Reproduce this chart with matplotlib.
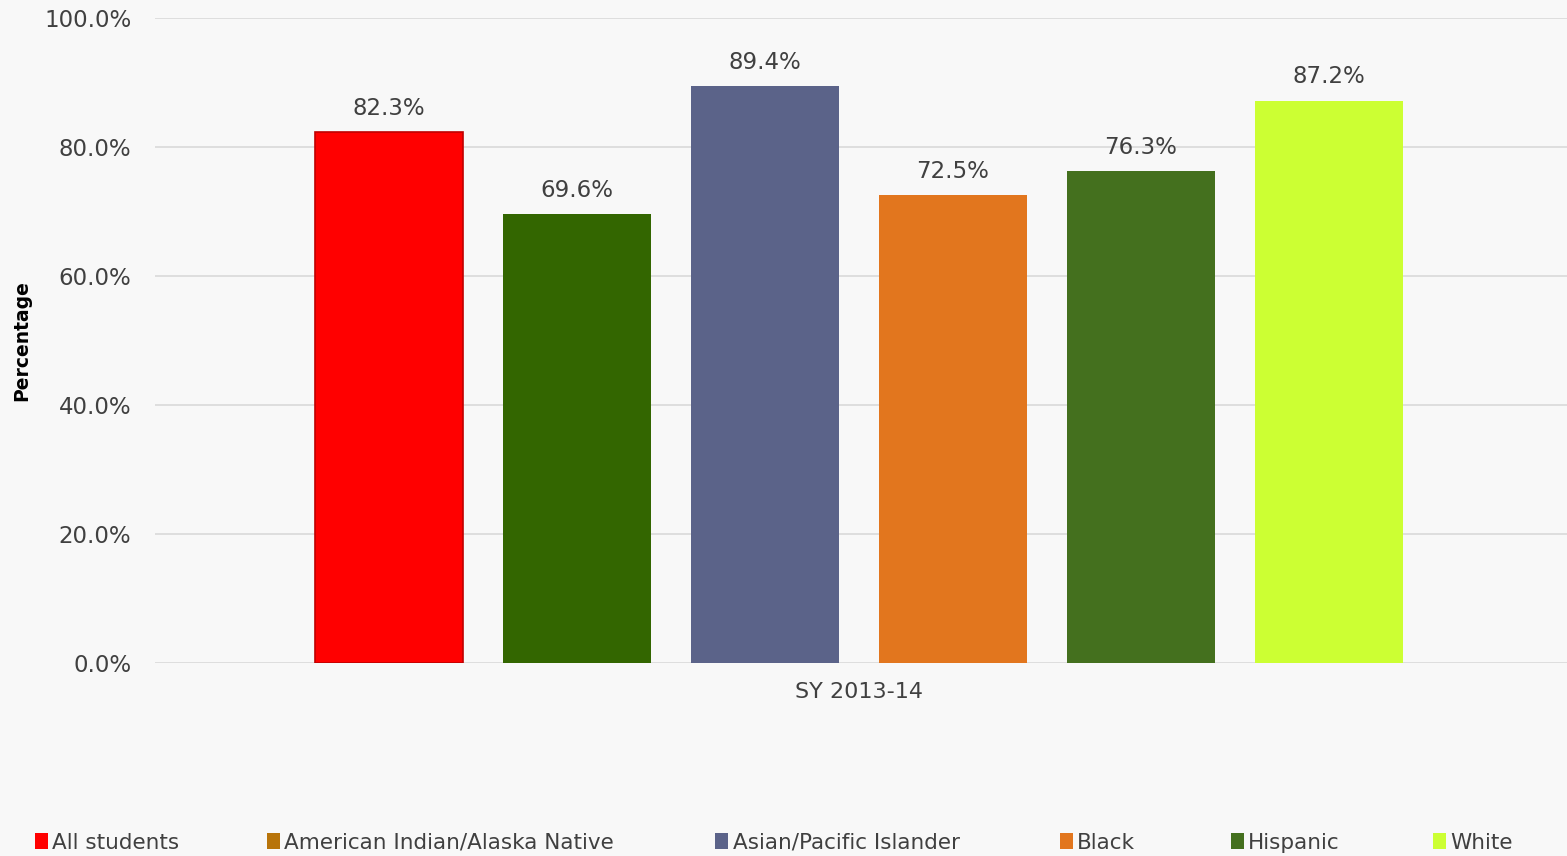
import matplotlib.pyplot as plt
from matplotlib.patches import Patch

# data
groups = ["All students", "American Indian/Alaska Native", "Asian/Pacific Islander",
          "Black", "Hispanic", "White"]
values = [82.3, 69.6, 89.4, 72.5, 76.3, 87.2]
bar_colors = ["#FF0000", "#336600", "#5B6389", "#E2761E", "#44701E", "#CCFF33"]
legend_colors = ["#FF0000", "#B8740A", "#5B6389", "#E2761E", "#44701E", "#CCFF33"]
category = "SY 2013-14"
yticks = [0, 20, 40, 60, 80, 100]

TEXT = "#404040"
BG = "#F8F8F8"

fig = plt.figure(figsize=(15.67, 8.56), dpi=100)
fig.patch.set_facecolor(BG)
ax = fig.add_axes([0.0989, 0.2255, 0.9011, 0.7535])
ax.set_facecolor(BG)

n = len(values)
xs = [i - (n - 1) / 2 for i in range(n)]
bars = ax.bar(xs, values, width=0.79, color=bar_colors, zorder=3)
bars[0].set_edgecolor("#C00000")
bars[0].set_linewidth(1.2)

for x, v in zip(xs, values):
    ax.text(x, v + 1.9, f"{v:.1f}%", ha="center", va="bottom",
            fontsize=16.5, color=TEXT)

ax.set_xlim(-3.745, 3.766)
ax.set_ylim(0, 100)
ax.set_yticks(yticks)
ax.set_yticklabels([f"{t:.1f}%" for t in yticks], fontsize=16.5, color=TEXT)
ax.tick_params(axis="y", length=0, pad=17)
ax.set_xticks([0])
ax.set_xticklabels([category], fontsize=16, color=TEXT)
ax.tick_params(axis="x", length=0, pad=14)
ax.grid(axis="y", color="#D9D9D9", linewidth=1.2, zorder=0)
for s in ax.spines.values():
    s.set_visible(False)

fig.text(0.008, 0.602, "Percentage", rotation=90, ha="left", va="center",
         fontsize=13.5, fontweight="bold", color="black")

# legend entries placed individually along the bottom
legend_x = [0.017, 0.165, 0.451, 0.671, 0.780, 0.909]
for lx, name, c in zip(legend_x, groups, legend_colors):
    fig.legend(handles=[Patch(facecolor=c)], labels=[name],
               loc="lower left", bbox_to_anchor=(lx, -0.006),
               frameon=False, fontsize=15.5, handlelength=0.6, handleheight=0.7,
               handletextpad=0.2, borderaxespad=0, labelcolor=TEXT)

fig.savefig("out.png", dpi=100, facecolor=BG)
